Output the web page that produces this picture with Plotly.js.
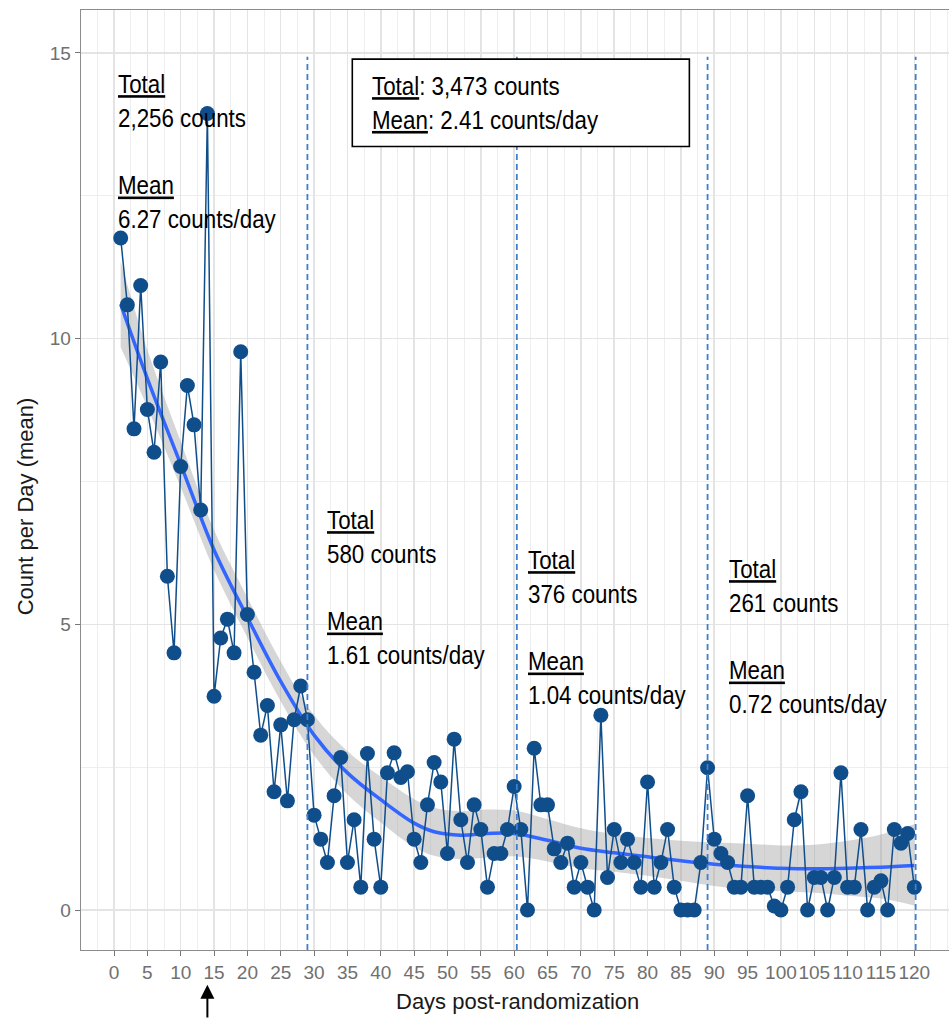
<!DOCTYPE html>
<html>
<head>
<meta charset="utf-8">
<script src="https://cdn.plot.ly/plotly-3.0.1.min.js"></script>
<style>
html,body{margin:0;padding:0;background:#fff;overflow:hidden;}
#chart{width:956px;height:1019px;}
</style>
</head>
<body>
<div id="chart"></div>
<script>
// ---- Data ----
const days = Array.from({length: 120}, (_, i) => i + 1);
const countPerDay = [
  11.76, 10.59, 8.42, 10.93, 8.76, 8.01, 9.59, 5.84, 4.50, 7.76,
  9.18, 8.49, 7.00, 13.94, 3.74, 4.76, 5.09, 4.50, 9.77, 5.17,
  4.16, 3.06, 3.58, 2.07, 3.24, 1.91, 3.33, 3.92, 3.33, 1.66,
  1.24, 0.83, 2.00, 2.67, 0.83, 1.58, 0.40, 2.74, 1.24, 0.40,
  2.40, 2.75, 2.32, 2.42, 1.24, 0.83, 1.84, 2.58, 2.24, 0.99,
  2.99, 1.58, 0.83, 1.84, 1.41, 0.40, 0.99, 0.99, 1.41, 2.16,
  1.41, 0.00, 2.83, 1.84, 1.84, 1.07, 0.83, 1.17, 0.40, 0.83,
  0.40, 0.00, 3.41, 0.57, 1.41, 0.83, 1.24, 0.83, 0.40, 2.24,
  0.40, 0.83, 1.41, 0.40, 0.00, 0.00, 0.00, 0.83, 2.49, 1.24,
  0.99, 0.83, 0.40, 0.40, 2.00, 0.40, 0.40, 0.40, 0.07, 0.00,
  0.40, 1.58, 2.07, 0.00, 0.57, 0.57, 0.00, 0.57, 2.40, 0.40,
  0.40, 1.41, 0.00, 0.40, 0.51, 0.00, 1.41, 1.17, 1.34, 0.40
];
// loess smooth curve and its confidence band
const smoothX  = [1, 5, 10, 15, 20, 25, 30, 35, 40, 45, 48, 52, 56, 60, 65, 70, 75, 80, 85, 90, 95, 100, 105, 110, 115, 120];
const smoothY  = [10.6, 9.3, 7.8, 6.3, 5.12, 4.0, 3.06, 2.4, 1.93, 1.52, 1.37, 1.31, 1.34, 1.34, 1.22, 1.08, 1.0, 0.93, 0.86, 0.8, 0.76, 0.73, 0.72, 0.73, 0.75, 0.78];
const smoothHi = [11.35, 9.8, 8.2, 6.65, 5.47, 4.35, 3.41, 2.78, 2.33, 1.94, 1.79, 1.73, 1.76, 1.74, 1.59, 1.43, 1.33, 1.26, 1.21, 1.18, 1.16, 1.13, 1.14, 1.21, 1.32, 1.5];
const smoothLo = [9.85, 8.8, 7.4, 5.95, 4.77, 3.65, 2.71, 2.02, 1.53, 1.10, 0.95, 0.89, 0.92, 0.94, 0.85, 0.73, 0.67, 0.60, 0.51, 0.42, 0.36, 0.33, 0.30, 0.25, 0.20, 0.08];
// period boundaries (vertical dashed lines)
const periodBreaks = [29, 60.4, 89, 120.2];
// period summaries
const periodStartDay = [0.4, 31.8, 61.9, 92.1];
const periodTotals = ["2,256", "580", "376", "261"];
const periodMeans  = ["6.27", "1.61", "1.04", "0.72"];
const overallTotal = "3,473";
const overallMean  = "2.41";
const xTicks = Array.from({length: 25}, (_, i) => i * 5);
const yTicks = [0, 5, 10, 15];
const arrowDay = 14;
const xTitle = 'Days post-randomization';
const yTitle = 'Count per Day (mean)';

// ---- Layout ----
const annFont = {family: "'Liberation Sans', Arial, sans-serif", size: 26, color: '#000'};
const periodTop = [14.74, 7.105, 6.405, 6.25];
const axFont = "'Liberation Sans', Arial, sans-serif";

const traces = [
  {x: smoothX, y: smoothHi, type: 'scatter', mode: 'lines', line: {width: 0, shape: 'spline'}, hoverinfo: 'skip', showlegend: false},
  {x: smoothX, y: smoothLo, type: 'scatter', mode: 'lines', line: {width: 0, shape: 'spline'}, fill: 'tonexty', fillcolor: 'rgba(153,153,153,0.4)', hoverinfo: 'skip', showlegend: false},
  {x: smoothX, y: smoothY, type: 'scatter', mode: 'lines', line: {color: '#3366FF', width: 3.5, shape: 'spline'}, showlegend: false},
  {x: days, y: countPerDay, type: 'scatter', mode: 'lines+markers', line: {color: '#104E8B', width: 1.5}, marker: {color: '#104E8B', size: 15}, showlegend: false, cliponaxis: false}
];

const shapes = periodBreaks.map(b => ({
  type: 'line', xref: 'x', yref: 'y', x0: b, x1: b, y0: -0.7, y1: 14.93,
  line: {color: '#3f7fd0', width: 1.8, dash: '6px,4px'}, layer: 'above'
}));
shapes.push({type: 'rect', xref: 'x', yref: 'y', x0: 35.73, x1: 86.27, y0: 13.36, y1: 14.89,
  fillcolor: '#ffffff', line: {color: '#000', width: 1.6}, layer: 'above'});

const annotations = periodTotals.map((t, i) => ({
  xref: 'x', yref: 'y', x: periodStartDay[i], y: periodTop[i], xanchor: 'left', yanchor: 'top',
  align: 'left', showarrow: false, borderpad: 0, font: annFont,
  text: '<u>Total</u><br>' + t + ' counts<br><br><u>Mean</u><br>' + periodMeans[i] + ' counts/day'
}));
annotations.push({
  xref: 'x', yref: 'y', x: 38.5, y: 14.70, xanchor: 'left', yanchor: 'top', align: 'left',
  showarrow: false, borderpad: 0, font: annFont,
  text: '<u>Total</u>: ' + overallTotal + ' counts<br><u>Mean</u>: ' + overallMean + ' counts/day'
});
annotations.push({
  xref: 'x', yref: 'paper', x: arrowDay, y: -0.037, text: '', showarrow: true,
  arrowhead: 2, arrowsize: 1.4, arrowwidth: 2, arrowcolor: '#000', ax: 0, ay: 40, axref: 'pixel', ayref: 'pixel'
});
// axis titles
annotations.push({
  xref: 'paper', yref: 'paper', x: 0.5, y: -0.0543, xanchor: 'center', yanchor: 'middle',
  showarrow: false, text: xTitle, font: {family: axFont, size: 22, color: '#1a1a1a'}
});
annotations.push({
  xref: 'paper', yref: 'paper', x: 0, xshift: -56, y: 0.472, xanchor: 'center', yanchor: 'middle',
  showarrow: false, text: yTitle, textangle: -90, font: {family: axFont, size: 22, color: '#1a1a1a'}
});

const layout = {
  width: 956, height: 1019,
  margin: {l: 81, r: 2, t: 10, b: 69},
  paper_bgcolor: '#fff', plot_bgcolor: '#fff',
  font: {family: axFont},
  xaxis: {
    range: [-4.95, 125.95], tickvals: xTicks, ticktext: xTicks.map(String), tickangle: 0,
    ticks: 'outside', ticklen: 5, tickcolor: '#777', tickwidth: 1,
    tickfont: {size: 19, color: '#707070', family: axFont},
    showgrid: true, gridcolor: '#e4e4e4', gridwidth: 1.5,
    minor: {dtick: 2.5, tick0: 0, showgrid: true, gridcolor: '#eeeeee', gridwidth: 1},
    showline: true, mirror: true, linecolor: '#8c8c8c', linewidth: 1.4, zeroline: false
  },
  yaxis: {
    range: [-0.7, 15.75], tickvals: yTicks, ticktext: yTicks.map(String),
    ticks: 'outside', ticklen: 5, tickcolor: '#777', tickwidth: 1,
    tickfont: {size: 19, color: '#707070', family: axFont},
    showgrid: true, gridcolor: '#e4e4e4', gridwidth: 1.5,
    minor: {dtick: 2.5, tick0: 0, showgrid: true, gridcolor: '#eeeeee', gridwidth: 1},
    showline: true, mirror: true, linecolor: '#8c8c8c', linewidth: 1.4, zeroline: false
  },
  shapes: shapes,
  annotations: annotations,
  showlegend: false
};

Plotly.newPlot('chart', traces, layout, {displayModeBar: false, staticPlot: true}).then(gd => {
  // condense the summary texts horizontally, like the narrow face of the reference
  gd.querySelectorAll('text.annotation-text').forEach(t => {
    if (!/count/.test(t.textContent)) return;
    const bb = t.getBBox();
    const x0 = bb.x;
    t.setAttribute('transform', 'translate(' + x0 + ',0) scale(0.86,1) translate(' + (-x0) + ',0)');
  });
});
</script>
</body>
</html>
